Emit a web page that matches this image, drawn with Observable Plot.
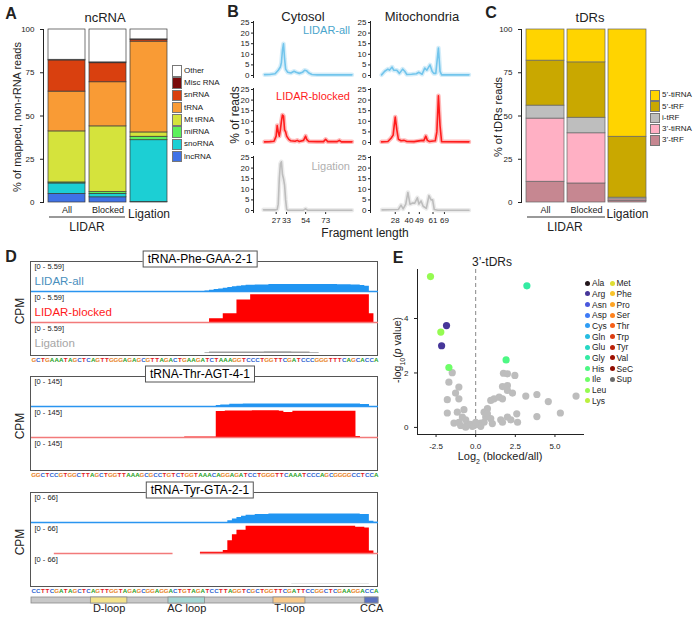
<!DOCTYPE html>
<html>
<head>
<meta charset="utf-8">
<script src="https://cdn.jsdelivr.net/npm/d3@7"></script>
<script src="https://cdn.jsdelivr.net/npm/@observablehq/plot@0.6"></script>
<style>
  body { margin: 0; background: #fff; font-family: "Liberation Sans", Arial, sans-serif; }
  #fig { position: relative; width: 700px; height: 620px; overflow: hidden; }
  .t { position: absolute; white-space: nowrap; line-height: 1; color: #222; }
</style>
</head>
<body>
<div id="fig"></div>
<script>
// ─────────────────────────────────────────────────────────────
//  DATA
// ─────────────────────────────────────────────────────────────
// A : ncRNA composition, stacked bottom -> top (% of mapped, non-rRNA reads)
const NC_SAMPLES  = ["All", "Blocked", "Ligation"];
const NC_TYPES    = ["lncRNA", "snoRNA", "miRNA", "Mt tRNA", "tRNA", "snRNA", "Misc RNA", "Other"];
const NC_ALL      = [5, 6, 0.6, 29.5, 23, 18, 0.4, 17.5];
const NC_BLOCKED  = [3, 2, 1, 38, 25.5, 11, 0.5, 19];
const NC_LIGATION = [0.3, 35.7, 2, 2.5, 52.5, 1, 0.3, 5.7];
const NC_COLORS   = ["#3f72e6", "#1ccfd4", "#5cf05c", "#d5e33c", "#f99b35", "#d9400f", "#7a0a0a", "#ffffff"];

// B : fragment length distributions, [length, % of reads]
const B_X_DOMAIN = [4.5, 98.5];
const B_Y_TICKS  = [0, 5, 10, 15, 20, 25];
const CYT_TICKS  = [27, 33, 54, 73];
const MITO_TICKS = [28, 40, 49, 61, 69];
const CYT_ALL = [[15,0.4],[20,0.5],[25,0.8],[28,2.5],[30,4],[31,6],[32,12],[33,15],[34,8],[35,3],[37,1.5],[40,1.2],[43,2],[45,1.5],[48,1],[51,1.5],[53,2.5],[55,2.2],[57,1.2],[60,0.5],[65,0.3],[75,0.3],[85,0.3],[98,0.3]];
const CYT_BLOCKED = [[15,0.3],[20,0.4],[24,0.6],[26,3],[27,8],[28,5],[29,3],[30,6],[31,10],[32,13],[33,12.5],[34,6],[35,5],[36,3],[38,1.5],[40,0.8],[44,0.6],[46,1],[48,0.5],[52,1],[54,3],[55,1.5],[57,0.5],[65,0.4],[71,0.4],[73,1.5],[75,0.4],[84,0.4],[86,1],[88,0.3],[98,0.3]];
const CYT_LIGATION = [[14,0.3],[25,0.3],[27,0.5],[28,3],[29,15],[30,22],[31,23],[32,17],[33,15],[34,12],[35,5],[36,0.5],[37,0.1],[45,0.1],[52,0.2],[54,0.8],[56,0.1],[65,0.1],[98,0.1]];
const MITO_ALL = [[15,0.3],[18,2],[21,3],[22.5,2.5],[25,4],[26.5,2.5],[29.5,2.5],[32,1],[35,3],[37,2],[39,0.5],[43.5,0.6],[48,0.8],[50.5,1.5],[53.5,0.6],[56,3.5],[58,2.5],[61,5],[63,2],[64.5,1],[66.5,1],[69,13],[70.5,2],[72,0.3],[98,0.3]];
const MITO_BLOCKED = [[15,0.3],[21,0.5],[24,2],[26,3.5],[27,8],[28,12],[29.5,6],[31,1.5],[33.5,0.8],[36.5,1],[39,0.5],[46,0.4],[53.5,1],[55,0.8],[57,3],[58.5,1],[60.5,0.5],[66,0.8],[67.5,5],[69,22],[70.5,8],[72,0.4],[98,0.3]];
const MITO_LIGATION = [[15.5,0.3],[31,0.5],[33.5,2.5],[35.5,0.8],[38,3],[40,8.5],[42,3],[44.5,3.5],[46.5,3.5],[49,6],[50.5,3],[52.5,4.5],[54.5,2],[57.5,1],[60,7],[62,5],[63.5,5],[65,0.5],[68.5,0.1],[98,0.1]];

// C : tDR composition, stacked bottom -> top (% of tDRs reads)
const TDR_SAMPLES  = ["All", "Blocked", "Ligation"];
const TDR_TYPES    = ["3’-tRF", "3’-tiRNA", "i-tRF", "5’-tRF", "5’-tiRNA"];
const TDR_ALL      = [12, 36.5, 7.5, 26, 18];
const TDR_BLOCKED  = [11, 29, 9, 32, 19];
const TDR_LIGATION = [1, 0.8, 1, 35.2, 62];
const TDR_COLORS   = ["#c68791", "#ffb0c4", "#bebebe", "#c9a800", "#ffd400"];

// D : read coverage (CPM) per nucleotide, [position, value] steps
const SEQ_PHE = "GCTGAAATAGCTCAGTTGGGAGAGCGTTAGACTGAAGATCTAAAGGTCCCTGGTTCGATCCCGGGTTTCAGCACCA";
const SEQ_THR = "GGCTCCGTGGCTTAGCTGGTTAAAGCGCCTGTCTGGTAAACAGGAGATCCTGGGTTCAAATCCCAGCGGGGCCTCCA";
const SEQ_TYR = "CCTTCGATAGCTCAGTTGGTAGAGCGGAGGACTGTAGATCCTTAGGTCGCTGGTTCGATTCCGGCTCGAAGGACCA";
const PHE_ALL     = [[1,0],[39,0.1],[40,0.25],[41,0.4],[42,0.5],[43,0.65],[44,0.8],[45,0.95],[46,1.05],[47,1.15],[48,1.25],[50,1.3],[53,1.38],[60,1.4],[68,1.35],[71,1.3],[73,1.2],[74,1.05],[75,0],[77,0]];
const PHE_BLOCKED = [[1,0],[40,0.77],[43,1.73],[46,4.5],[49,5.55],[75,1.73],[76,0],[77,0]];
const PHE_LIG     = [[1,0],[39,0.15],[40,0.3],[52,0.35],[58,0.3],[62,0.15],[64,0],[77,0]];
const THR_ALL     = [[1,0],[42,5],[43,8],[45,12],[48,13],[70,13],[74,11],[76,0],[78,0]];
const THR_BLOCKED = [[1,0],[35,2],[38,3],[42,135],[44,137],[50,138],[56,136],[57,130],[59,136],[66,136],[73,5],[74,0],[78,0]];
const THR_LIG     = [[1,0],[78,0]];
const TYR_ALL     = [[1,0],[44,4],[45,8],[46,12],[47,15],[48,17],[50,19],[53,20],[70,20],[73,19],[75,3],[76,0.5],[77,0]];
const TYR_BLOCKED = [[1,0],[38,3],[43,7],[44,30],[45,44],[46,55],[48,64],[60,64],[72,62],[74,60],[75,6],[76,0],[77,0]];
const TYR_LIG     = [[1,0],[58,0.3],[75,0],[77,0]];
const TYR_BLOCKED_COVERED = [[6, 32], [38, 77]];   // stretches with a drawn baseline
const TRACK_MAX   = [5.59, 145, 66];
const TYR_REGIONS = [["D-loop", 14, 22], ["AC loop", 31, 39], ["T-loop", 54, 61], ["CCA", 74, 77]];
const BASES       = ["A", "C", "G", "T"];
const BASE_COLORS = ["#22a022", "#2d62d0", "#e8821e", "#e3201e"];

// E : 3'-tDRs volcano, [log2(blocked/all), -log10 p]
const AMINO = ["Ala","Arg","Asn","Asp","Cys","Gln","Glu","Gly","His","Ile","Leu","Lys",
               "Met","Phe","Pro","Ser","Thr","Trp","Tyr","Val","SeC"];
const E_X_TICKS = [-2.5, 0, 2.5, 5];
const E_Y_TICKS = [0, 2, 4];
const E_SUP = [[-1.48,2.01],[-1.69,1.66],[-1.06,1.48],[-1.27,1.26],[-1.79,1.02],[-1.06,1.05],[-1.79,0.53],[-1.16,0.56],[-0.74,0.65],[-1.37,0.16],[-1.06,0.19],[-0.84,0.38],[-0.63,0.28],[-0.53,0.14],[-0.32,0.11],[-0.21,0.04],[-0.11,0.07],[0.11,0.11],[0.32,0.16],[0.53,0.19],[0.63,0.38],[0.53,0.56],[0.74,0.69],[0.95,0.99],[1.16,1.05],[1.48,1.11],[1.69,1.05],[1.69,1.5],[2.0,1.54],[2.0,1.36],[2.32,1.26],[1.75,1.99],[2.0,1.97],[2.47,1.91],[1.58,0.28],[1.69,0.19],[2.0,0.38],[2.22,0.28],[2.59,0.5],[2.64,0.19],[3.16,1.15],[3.86,1.21],[3.86,0.4],[4.58,0.95],[5.34,0.53],[6.33,1.15],[0.74,0.5],[0.95,0.32],[1.05,0.14],[0.32,0.04],[0.0,0.19],[-0.95,0.07],[-0.63,0.01]];
const E_HIT_X  = [-2.85, -2.2, -1.84, -2.15, -1.69, 3.23, 1.92];
const E_HIT_Y  = [5.54, 3.5, 3.74, 3.0, 2.2, 5.2, 2.48];
const E_HIT_AA = ["Leu", "Leu", "Arg", "Arg", "Ile", "Gly", "His"];

// ─────────────────────────────────────────────────────────────
//  HELPERS
// ─────────────────────────────────────────────────────────────
const root = document.getElementById("fig");
const FONT = '"Liberation Sans", Arial, sans-serif';
const baseStyle = { fontFamily: FONT, fontSize: "8px", color: "#222", background: "transparent", overflow: "visible" };

function put(node, left, top) {
  node.style.position = "absolute";
  node.style.left = left + "px";
  node.style.top = top + "px";
  root.appendChild(node);
  return node;
}

// centred text (anchor start/end shifts it), optional -90° rotation
function txt(s, x, y, opt = {}) {
  const el = document.createElement("div");
  el.className = "t";
  el.innerHTML = s;
  el.style.fontSize = (opt.size || 11) + "px";
  if (opt.color) el.style.color = opt.color;
  if (opt.bold) el.style.fontWeight = "bold";
  const ax = opt.anchor === "end" ? "-100%" : opt.anchor === "start" ? "0" : "-50%";
  el.style.transform = `translate(${ax},-50%)` + (opt.rotate ? " rotate(-90deg)" : "");
  return put(el, x, y);
}

function hline(x1, x2, y, color, w) {
  const el = document.createElement("div");
  el.style.cssText = `width:${x2 - x1}px;height:${w}px;background:${color};`;
  return put(el, x1, y - w / 2);
}

function boxLegend(types, colors, x, y0, pitch, h) {
  types.forEach((t, i) => {
    const sw = document.createElement("div");
    sw.style.cssText = `width:10px;height:${h}px;background:${colors[i]};border:1px solid #777;box-sizing:border-box;`;
    put(sw, x, y0 + i * pitch);
    txt(t, x + 12, y0 + i * pitch + h / 2, { size: 8, anchor: "start" });
  });
}

function stackRows(samples, types, series) {
  return samples.flatMap((s, i) => types.map((t, j) => ({ sample: s, type: t, value: series[i][j] })));
}

function stackPlot(rows, samples, types, colors, ml, pi, po, stroke) {
  return Plot.plot({
    width: ml + 129 + 3, height: 232,
    marginLeft: ml, marginRight: 3, marginTop: 29, marginBottom: 30,
    style: baseStyle,
    x: { domain: samples, paddingInner: pi, paddingOuter: po, label: null },
    y: { domain: [0, 100], ticks: [0, 25, 50, 75, 100], tickSize: 3, line: true, label: null },
    color: { domain: types, range: colors },
    marks: [
      Plot.barY(rows, { x: "sample", y: "value", fill: "type", order: types, stroke, strokeWidth: 0.7 }),
      Plot.axisX({ ticks: samples.slice(0, 2), tickSize: 0, tickPadding: 4, fontSize: 9, label: null }),
      Plot.axisX({ ticks: samples.slice(2), tickSize: 0, tickPadding: 7, fontSize: 12, label: null })
    ]
  });
}

// ─────────────────────────────────────────────────────────────
//  A. ncRNA
// ─────────────────────────────────────────────────────────────
put(stackPlot(stackRows(NC_SAMPLES, NC_TYPES, [NC_ALL, NC_BLOCKED, NC_LIGATION]),
  NC_SAMPLES, NC_TYPES, NC_COLORS, 43, 0.107, 0.095, "#3a3a3a"), 0, 0);
boxLegend(NC_TYPES.slice().reverse(), NC_COLORS.slice().reverse(), 172, 65, 12.25, 11.5);
txt("A", 11, 14, { size: 16, bold: true });
txt("ncRNA", 105, 17, { size: 13 });
txt("% of mapped, non-rRNA reads", 17, 117, { size: 11, rotate: true });
hline(49, 125, 217, "#999", 1.5);
txt("LIDAR", 87, 227, { size: 12 });

// ─────────────────────────────────────────────────────────────
//  B. fragment length
// ─────────────────────────────────────────────────────────────
// tick labels nudged sideways where they would touch (as in the figure)
const B_COLS = [
  { series: [CYT_ALL, CYT_BLOCKED, CYT_LIGATION], ticks: CYT_TICKS, nudge: [-1, 3, 0, 0] },
  { series: [MITO_ALL, MITO_BLOCKED, MITO_LIGATION], ticks: MITO_TICKS, nudge: [0, 1, 2, 3, 6] }
];
const B_COLORS = ["#72c5ec", "#ff1c1c", "#bdbdbd"];
const colLeft = [253, 370], rowTop = [21, 88, 156];

B_COLS.forEach((c, ci) => c.series.forEach((s, ri) => {
  const last = ri === 2;
  const xAxes = last
    ? c.ticks.map((t, k) => Plot.axisX({ ticks: [t], tickSize: 2, tickPadding: 3, dx: c.nudge[k], label: null }))
    : [];
  const p = Plot.plot({
    width: 18 + 99 + 4, height: 4 + 56 + (last ? 18 : 3),
    marginLeft: 18, marginRight: 4, marginTop: 4, marginBottom: last ? 18 : 3,
    style: baseStyle,
    x: { domain: B_X_DOMAIN, label: null },
    y: { domain: [0, 25], ticks: B_Y_TICKS, tickSize: 2, tickPadding: 2, line: true, label: null, insetBottom: 2, insetTop: 1 },
    marks: [
      Plot.axisX({ ticks: [], tickSize: 0, line: true, label: null }),
      ...xAxes,
      Plot.lineY(s, { x: d => d[0], y: d => d[1], stroke: B_COLORS[ri], strokeWidth: 4.5, strokeOpacity: 0.3 }),
      Plot.lineY(s, { x: d => d[0], y: d => d[1], stroke: B_COLORS[ri], strokeWidth: 1.6 })
    ]
  });
  put(p, colLeft[ci] - 18, rowTop[ri] - 4);
}));
txt("B", 233, 12, { size: 16, bold: true });
txt("Cytosol", 303, 16, { size: 13 });
txt("Mitochondria", 422, 16, { size: 13 });
txt("LIDAR-all", 350, 30, { size: 11, anchor: "end", color: "#4aa5cc" });
txt("LIDAR-blocked", 350, 96, { size: 11, anchor: "end", color: "#ff1c1c" });
txt("Ligation", 350, 166, { size: 11, anchor: "end", color: "#b0b0b0" });
txt("% of reads", 235, 115, { size: 12, rotate: true });
txt("Fragment length", 365, 233, { size: 12 });

// ─────────────────────────────────────────────────────────────
//  C. tDRs
// ─────────────────────────────────────────────────────────────
put(stackPlot(stackRows(TDR_SAMPLES, TDR_TYPES, [TDR_ALL, TDR_BLOCKED, TDR_LIGATION]),
  TDR_SAMPLES, TDR_TYPES, TDR_COLORS, 51, 0.084, 0.096, "#666"), 470, 0);
boxLegend(TDR_TYPES.slice().reverse(), TDR_COLORS.slice().reverse(), 650, 90, 11.3, 10.5);
txt("C", 491, 13, { size: 16, bold: true });
txt("tDRs", 590, 17, { size: 13 });
txt("% of tDRs reads", 498, 117, { size: 11, rotate: true });
hline(527, 605, 217, "#999", 1.5);
txt("LIDAR", 565, 227, { size: 12 });

// ─────────────────────────────────────────────────────────────
//  D. coverage tracks
// ─────────────────────────────────────────────────────────────
const D_GENES = [
  { name: "tRNA-Phe-GAA-2-1", seq: SEQ_PHE, tracks: [PHE_ALL, PHE_BLOCKED, PHE_LIG], top: 261 },
  { name: "tRNA-Thr-AGT-4-1", seq: SEQ_THR, tracks: [THR_ALL, THR_BLOCKED, THR_LIG], top: 376 },
  { name: "tRNA-Tyr-GTA-2-1", seq: SEQ_TYR, tracks: [TYR_ALL, TYR_BLOCKED, TYR_LIG], top: 492,
    covered: [null, TYR_BLOCKED_COVERED, null] }
];
const TRACK_NAMES  = ["LIDAR-all", "LIDAR-blocked", "Ligation"];
const TRACK_FILL   = ["#2095f2", "#ff0000", "#9e9e9e"];
const TRACK_TEXT   = ["#4a8fbd", "#ff1a1a", "#a6a6a6"];
const TRACK_BASE   = ["#2a95f0", "#f27a7a", null];
const BOX_X = 30, BOX_W = 347, TRACK_H = 31;

D_GENES.forEach((g, gi) => {
  const n = g.seq.length;
  const max = TRACK_MAX[gi];
  const range = `[0 - ${max}]`;

  const frame = document.createElement("div");
  frame.style.cssText = `width:${BOX_W + 1}px;height:${3 * TRACK_H + 2}px;border:1px solid #555;box-sizing:border-box;`;
  put(frame, BOX_X, g.top);

  g.tracks.forEach((tr, ti) => {
    const segs = (g.covered && g.covered[ti]) || [[1, n + 1]];
    const p = Plot.plot({
      width: BOX_W, height: TRACK_H, margin: 0,
      style: baseStyle,
      x: { domain: [1, n + 1], axis: null },
      y: { domain: [0, max], axis: null, insetTop: 2, insetBottom: 1 },
      marks: [
        Plot.areaY(tr, { x: d => d[0], y: d => d[1], curve: "step-after", fill: TRACK_FILL[ti] }),
        TRACK_BASE[ti] ? Plot.ruleY(segs, { y: 0, x1: d => d[0], x2: d => d[1], stroke: TRACK_BASE[ti], strokeWidth: 1.3 }) : null,
        Plot.text([range], { text: d => d, frameAnchor: "top-left", dx: 3, dy: 2, fontSize: 7.5, fill: "#222" }),
        gi === 0 ? Plot.text([TRACK_NAMES[ti]], { text: d => d, frameAnchor: "left", dx: 3, dy: 4, fontSize: 11.5, fill: TRACK_TEXT[ti] }) : null
      ]
    });
    put(p, BOX_X + 1, g.top + ti * TRACK_H);
  });

  // sequence under the box
  const seqPlot = Plot.plot({
    width: BOX_W, height: 8, margin: 0,
    style: baseStyle,
    x: { type: "band", domain: d3.range(1, n + 1), padding: 0, axis: null },
    color: { domain: BASES, range: BASE_COLORS },
    marks: [
      Plot.text(g.seq.split(""), { x: (d, i) => i + 1, text: d => d, fill: d => d, fontSize: 6.2, fontWeight: "bold", frameAnchor: "middle" })
    ]
  });
  put(seqPlot, BOX_X + 1, g.top + 3 * TRACK_H + 2);

  const lab = document.createElement("div");
  lab.textContent = g.name;
  lab.style.cssText = "font-size:12px;line-height:13px;padding:1px 4px;border:1px solid #555;background:#fff;white-space:nowrap;transform:translate(-50%,-50%);";
  put(lab, 200, g.top - 2);

  txt("CPM", 20, g.top + 50, { size: 12, rotate: true });
});

// tRNA structure annotation under the last gene
const annot = Plot.plot({
  width: BOX_W, height: 20, marginTop: 0, marginBottom: 14, marginLeft: 0, marginRight: 0,
  style: baseStyle,
  x: { domain: [1, SEQ_TYR.length + 1], axis: null },
  color: { domain: TYR_REGIONS.map(r => r[0]), range: ["#f2e28c", "#a6d5d2", "#f6c98c", "#5b72bf"] },
  marks: [
    Plot.barX([[1, SEQ_TYR.length + 1]], { x1: d => d[0], x2: d => d[1], fill: "#c8c8c8", stroke: "#8a8a8a", strokeWidth: 0.8 }),
    Plot.barX(TYR_REGIONS, { x1: d => d[1], x2: d => d[2], fill: d => d[0], stroke: "#8a8a8a", strokeWidth: 0.8 }),
    Plot.text(TYR_REGIONS, { x: d => (d[1] + d[2]) / 2, text: d => d[0], frameAnchor: "bottom", dy: 8, fontSize: 11, fill: "#222" })
  ]
});
put(annot, BOX_X + 1, 597);
txt("D", 11, 257, { size: 16, bold: true });

// ─────────────────────────────────────────────────────────────
//  E. volcano
// ─────────────────────────────────────────────────────────────
const AA_COLORS = d3.quantize(d3.interpolateTurbo, AMINO.length);
const eHits = E_HIT_X.map((x, i) => ({ x, y: E_HIT_Y[i], aa: E_HIT_AA[i] }));
const volcano = Plot.plot({
  width: 188, height: 192,
  marginLeft: 17, marginRight: 5, marginTop: 7, marginBottom: 20,
  style: baseStyle,
  x: { domain: [-3.67, 6.8], ticks: E_X_TICKS, tickFormat: d => d.toFixed(1), tickSize: 3, line: true, label: null },
  y: { domain: [-0.26, 5.8], ticks: E_Y_TICKS, tickFormat: d => String(d), tickSize: 3, line: true, label: null },
  color: { domain: AMINO, range: AA_COLORS },
  marks: [
    Plot.ruleX([0], { stroke: "#888", strokeDasharray: "4,3" }),
    Plot.dot(E_SUP, { x: d => d[0], y: d => d[1], r: 3.6, fill: "#bdbdbd" }),
    Plot.dot(eHits, { x: "x", y: "y", r: 3.6, fill: "aa" })
  ]
});
put(volcano, 400, 262);
txt("E", 398, 258, { size: 16, bold: true });
txt("3’-tDRs", 492, 262, { size: 12 });
txt("-log<sub style='font-size:7px'>10</sub>(<i>p</i> value)", 399, 350, { size: 10.5, rotate: true });
txt("Log<sub style='font-size:7px'>2</sub> (blocked/all)", 500, 458, { size: 11 });

// amino-acid legend (two columns)
AMINO.concat("Sup").forEach((a, i) => {
  const col = i < 12 ? 0 : 1, row = col ? i - 12 : i;
  const x = col ? 612 : 587.5, y = 283.3 + row * 10.67;
  const dot = document.createElement("div");
  dot.style.cssText = `width:5px;height:5px;border-radius:50%;background:${a === "Sup" ? "#6b6b6b" : AA_COLORS[i]};`;
  put(dot, x - 2.5, y - 2.5);
  txt(a, x + 4.5, y, { size: 8.5, anchor: "start" });
});
</script>
</body>
</html>
